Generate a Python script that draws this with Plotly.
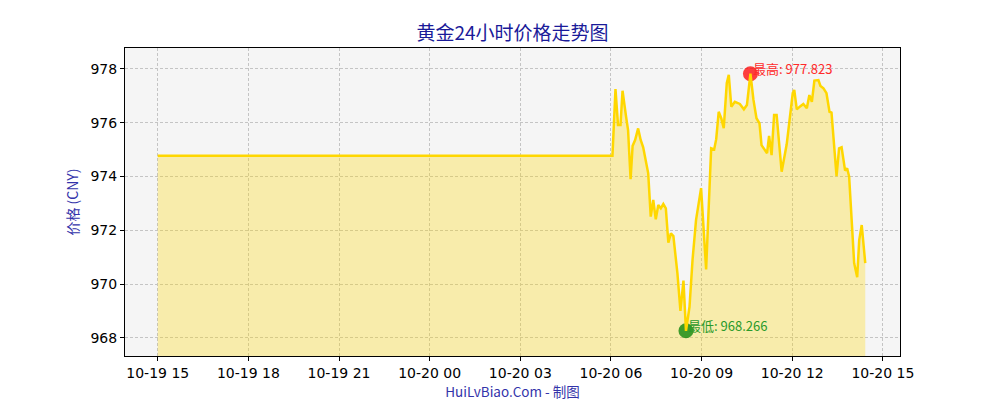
import plotly.graph_objects as go
from datetime import datetime, timedelta

# ---- data ----
times = [
    "2024-10-19 15:00", "2024-10-20 06:03", "2024-10-20 06:09", "2024-10-20 06:14", "2024-10-20 06:19",
    "2024-10-20 06:23", "2024-10-20 06:30", "2024-10-20 06:34", "2024-10-20 06:39", "2024-10-20 06:43",
    "2024-10-20 06:48", "2024-10-20 06:54", "2024-10-20 06:59", "2024-10-20 07:04", "2024-10-20 07:14",
    "2024-10-20 07:19", "2024-10-20 07:24", "2024-10-20 07:29", "2024-10-20 07:34", "2024-10-20 07:39",
    "2024-10-20 07:44", "2024-10-20 07:49", "2024-10-20 07:54", "2024-10-20 07:59", "2024-10-20 08:04",
    "2024-10-20 08:12", "2024-10-20 08:18", "2024-10-20 08:24", "2024-10-20 08:29", "2024-10-20 08:36",
    "2024-10-20 08:42", "2024-10-20 08:49", "2024-10-20 08:59", "2024-10-20 09:09", "2024-10-20 09:19",
    "2024-10-20 09:25", "2024-10-20 09:29", "2024-10-20 09:34", "2024-10-20 09:39", "2024-10-20 09:44",
    "2024-10-20 09:50", "2024-10-20 09:54", "2024-10-20 09:59", "2024-10-20 10:06", "2024-10-20 10:16",
    "2024-10-20 10:24", "2024-10-20 10:30", "2024-10-20 10:37", "2024-10-20 10:43", "2024-10-20 10:49",
    "2024-10-20 10:55", "2024-10-20 10:59", "2024-10-20 11:10", "2024-10-20 11:14", "2024-10-20 11:19",
    "2024-10-20 11:24", "2024-10-20 11:29", "2024-10-20 11:39", "2024-10-20 11:49", "2024-10-20 11:54",
    "2024-10-20 12:01", "2024-10-20 12:04", "2024-10-20 12:09", "2024-10-20 12:15", "2024-10-20 12:22",
    "2024-10-20 12:29", "2024-10-20 12:34", "2024-10-20 12:39", "2024-10-20 12:44", "2024-10-20 12:52",
    "2024-10-20 12:56", "2024-10-20 13:02", "2024-10-20 13:08", "2024-10-20 13:14", "2024-10-20 13:18",
    "2024-10-20 13:28", "2024-10-20 13:33", "2024-10-20 13:38", "2024-10-20 13:45", "2024-10-20 13:49",
    "2024-10-20 13:53", "2024-10-20 14:03", "2024-10-20 14:09", "2024-10-20 14:13", "2024-10-20 14:18",
    "2024-10-20 14:25",
]
prices = [
    974.77, 974.77, 977.25, 975.92, 975.92,
    977.19, 976.23, 975.73, 973.90, 975.14,
    975.36, 975.79, 975.36, 975.09, 974.12,
    972.51, 973.13, 972.41, 972.94, 972.82,
    972.98, 972.82, 971.54, 971.89, 971.79,
    970.40, 969.01, 970.13, 968.266, 969.16,
    970.90, 972.39, 973.57, 970.55, 975.05,
    975.01, 975.39, 976.41, 976.17, 975.80,
    977.47, 977.78, 976.60, 976.78, 976.70,
    976.50, 976.66, 977.823, 976.85, 976.17,
    975.98, 975.17, 974.87, 975.51, 974.80,
    976.29, 976.29, 974.18, 975.20, 975.92,
    977.10, 977.22, 976.50, 976.60, 976.70,
    976.54, 977.03, 976.78, 977.57, 977.59,
    977.37, 977.28, 977.10, 976.41, 976.38,
    974.02, 975.05, 975.09, 974.22, 974.31,
    974.00, 970.78, 970.26, 971.64, 972.20,
    970.78,
]
title_text = "黄金24小时价格走势图"
y_label = "价格 (CNY)"
x_label = "HuiLvBiao.Com - 制图"

hi_idx = max(range(len(prices)), key=lambda i: prices[i])
lo_idx = min(range(len(prices)), key=lambda i: prices[i])

fig = go.Figure()

# area fill (bottom layer)
fig.add_trace(go.Scatter(
    x=times, y=prices, mode="lines", line=dict(width=0, color="rgba(0,0,0,0)"),
    fill="tozeroy", fillcolor="rgba(255,215,0,0.3)",
    showlegend=False, hoverinfo="skip"))

# extreme markers (under the line)
fig.add_trace(go.Scatter(
    x=[times[hi_idx]], y=[prices[hi_idx]], mode="markers",
    marker=dict(size=15, color="rgba(255,0,0,0.75)", line=dict(width=0)),
    showlegend=False, hoverinfo="skip"))
fig.add_trace(go.Scatter(
    x=[times[lo_idx]], y=[prices[lo_idx]], mode="markers",
    marker=dict(size=15, color="rgba(0,128,0,0.75)", line=dict(width=0)),
    showlegend=False, hoverinfo="skip"))

# price line
fig.add_trace(go.Scatter(
    x=times, y=prices, mode="lines",
    line=dict(color="#FFD700", width=2.5),
    showlegend=False))

fig.add_annotation(x=times[hi_idx], y=prices[hi_idx], text=f"最高: {prices[hi_idx]:.3f}",
                   showarrow=False, xanchor="left", yanchor="middle", xshift=1, yshift=5,
                   font=dict(color="#ff2a2a", size=13, family="Noto Sans CJK SC, DejaVu Sans"))
fig.add_annotation(x=times[lo_idx], y=prices[lo_idx], text=f"最低: {prices[lo_idx]:.3f}",
                   showarrow=False, xanchor="left", yanchor="middle", xshift=0, yshift=5,
                   font=dict(color="#2a9a2a", size=13, family="Noto Sans CJK SC, DejaVu Sans"))

start = datetime(2024, 10, 19, 15, 0)
x0 = start - timedelta(minutes=65)
x1 = start + timedelta(hours=24, minutes=34)

# page body has an 8px default margin; compensate so the plot lands where the reference's does
fig.update_layout(
    width=1000, height=400,
    margin=dict(l=117, r=108, t=40, b=52, autoexpand=False),
    paper_bgcolor="white", plot_bgcolor="#f5f5f5",
    title=dict(text=title_text, x=0.5, xref="paper", xanchor="center", y=0.9375, yanchor="middle",
               font=dict(size=19, color="#1a1a99", family="Noto Sans CJK SC")),
    font=dict(family="DejaVu Sans", size=14, color="black"),
)
grid_kw = dict(showgrid=True, gridcolor="#c4c4c4", gridwidth=0.6, griddash="3px,2px")
fig.update_xaxes(
    type="date", range=[x0, x1], automargin=False,
    tick0=start, dtick=3 * 3600 * 1000, tickformat="%m-%d %H",
    ticks="outside", ticklen=4, tickcolor="black",
    showline=True, linecolor="black", linewidth=1, mirror=True,
    title=dict(text=x_label, font=dict(size=13.5, color="#3333aa", family="Noto Sans CJK SC"), standoff=2),
    zeroline=False, **grid_kw,
)
fig.update_yaxes(
    range=[967.33, 978.78], dtick=2, tick0=968, automargin=False,
    ticks="outside", ticklen=4, tickcolor="black",
    showline=True, linecolor="black", linewidth=1, mirror=True,
    title=dict(text=y_label, font=dict(size=14, color="#3333aa", family="Noto Sans CJK SC"), standoff=8),
    zeroline=False, **grid_kw,
)

fig.write_html("out.html")
